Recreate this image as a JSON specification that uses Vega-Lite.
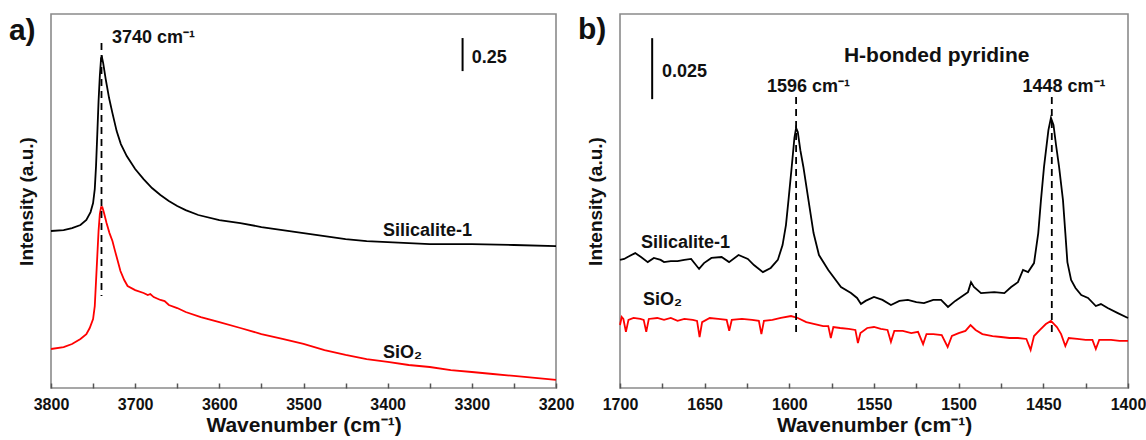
{
  "$schema": "https://vega.github.io/schema/vega-lite/v6.json",
  "padding": {"left": 8, "top": 13, "right": 0, "bottom": 0},
  "bounds": "flush",
  "spacing": 64,
  "config": {
    "font": "Liberation Sans",
    "view": {"stroke": "#8a8a8a", "strokeWidth": 1.6},
    "axis": {"grid": false, "labelFont": "Liberation Sans", "labelFontWeight": "bold", "labelColor": "#111111", "titleFont": "Liberation Sans", "titleFontWeight": "bold", "titleColor": "#111111"},
    "text": {"font": "Liberation Sans", "fontWeight": "bold", "color": "#111111"}
  },
  "datasets": {
    "specA": [
      {"wn":3800,"A":1.188,"s":"Silicalite-1"},{"wn":3785,"A":1.195,"s":"Silicalite-1"},{"wn":3775,"A":1.210,"s":"Silicalite-1"},{"wn":3765,"A":1.233,"s":"Silicalite-1"},{"wn":3758,"A":1.271,"s":"Silicalite-1"},{"wn":3753,"A":1.331,"s":"Silicalite-1"},{"wn":3750,"A":1.399,"s":"Silicalite-1"},{"wn":3748,"A":1.505,"s":"Silicalite-1"},{"wn":3746.5,"A":1.679,"s":"Silicalite-1"},{"wn":3745,"A":1.921,"s":"Silicalite-1"},{"wn":3743.5,"A":2.171,"s":"Silicalite-1"},{"wn":3742,"A":2.360,"s":"Silicalite-1"},{"wn":3740.5,"A":2.496,"s":"Silicalite-1"},{"wn":3739.5,"A":2.504,"s":"Silicalite-1"},{"wn":3738,"A":2.458,"s":"Silicalite-1"},{"wn":3735,"A":2.337,"s":"Silicalite-1"},{"wn":3731,"A":2.194,"s":"Silicalite-1"},{"wn":3727,"A":2.080,"s":"Silicalite-1"},{"wn":3722,"A":1.944,"s":"Silicalite-1"},{"wn":3717,"A":1.846,"s":"Silicalite-1"},{"wn":3710,"A":1.755,"s":"Silicalite-1"},{"wn":3700,"A":1.657,"s":"Silicalite-1"},{"wn":3690,"A":1.581,"s":"Silicalite-1"},{"wn":3680,"A":1.513,"s":"Silicalite-1"},{"wn":3670,"A":1.460,"s":"Silicalite-1"},{"wn":3660,"A":1.415,"s":"Silicalite-1"},{"wn":3650,"A":1.377,"s":"Silicalite-1"},{"wn":3640,"A":1.346,"s":"Silicalite-1"},{"wn":3625,"A":1.309,"s":"Silicalite-1"},{"wn":3600,"A":1.271,"s":"Silicalite-1"},{"wn":3575,"A":1.248,"s":"Silicalite-1"},{"wn":3550,"A":1.218,"s":"Silicalite-1"},{"wn":3525,"A":1.195,"s":"Silicalite-1"},{"wn":3500,"A":1.172,"s":"Silicalite-1"},{"wn":3475,"A":1.150,"s":"Silicalite-1"},{"wn":3450,"A":1.127,"s":"Silicalite-1"},{"wn":3425,"A":1.112,"s":"Silicalite-1"},{"wn":3400,"A":1.104,"s":"Silicalite-1"},{"wn":3375,"A":1.097,"s":"Silicalite-1"},{"wn":3350,"A":1.089,"s":"Silicalite-1"},{"wn":3300,"A":1.089,"s":"Silicalite-1"},{"wn":3250,"A":1.082,"s":"Silicalite-1"},{"wn":3200,"A":1.074,"s":"Silicalite-1"},
      {"wn":3800,"A":0.295,"s":"SiO2"},{"wn":3785,"A":0.310,"s":"SiO2"},{"wn":3775,"A":0.333,"s":"SiO2"},{"wn":3765,"A":0.371,"s":"SiO2"},{"wn":3758,"A":0.408,"s":"SiO2"},{"wn":3754,"A":0.454,"s":"SiO2"},{"wn":3750,"A":0.522,"s":"SiO2"},{"wn":3748,"A":0.620,"s":"SiO2"},{"wn":3746.5,"A":0.809,"s":"SiO2"},{"wn":3745,"A":0.998,"s":"SiO2"},{"wn":3743.5,"A":1.188,"s":"SiO2"},{"wn":3742,"A":1.316,"s":"SiO2"},{"wn":3740.5,"A":1.369,"s":"SiO2"},{"wn":3739,"A":1.369,"s":"SiO2"},{"wn":3737,"A":1.324,"s":"SiO2"},{"wn":3734,"A":1.248,"s":"SiO2"},{"wn":3730.5,"A":1.172,"s":"SiO2"},{"wn":3727,"A":1.112,"s":"SiO2"},{"wn":3724.5,"A":1.051,"s":"SiO2"},{"wn":3721,"A":0.968,"s":"SiO2"},{"wn":3717.5,"A":0.885,"s":"SiO2"},{"wn":3713,"A":0.817,"s":"SiO2"},{"wn":3709,"A":0.772,"s":"SiO2"},{"wn":3700,"A":0.741,"s":"SiO2"},{"wn":3690,"A":0.719,"s":"SiO2"},{"wn":3685,"A":0.703,"s":"SiO2"},{"wn":3682,"A":0.711,"s":"SiO2"},{"wn":3678,"A":0.688,"s":"SiO2"},{"wn":3670,"A":0.666,"s":"SiO2"},{"wn":3665,"A":0.658,"s":"SiO2"},{"wn":3660,"A":0.628,"s":"SiO2"},{"wn":3650,"A":0.605,"s":"SiO2"},{"wn":3640,"A":0.575,"s":"SiO2"},{"wn":3622,"A":0.537,"s":"SiO2"},{"wn":3600,"A":0.499,"s":"SiO2"},{"wn":3575,"A":0.454,"s":"SiO2"},{"wn":3550,"A":0.408,"s":"SiO2"},{"wn":3525,"A":0.371,"s":"SiO2"},{"wn":3500,"A":0.333,"s":"SiO2"},{"wn":3475,"A":0.287,"s":"SiO2"},{"wn":3450,"A":0.250,"s":"SiO2"},{"wn":3425,"A":0.219,"s":"SiO2"},{"wn":3400,"A":0.197,"s":"SiO2"},{"wn":3375,"A":0.174,"s":"SiO2"},{"wn":3350,"A":0.159,"s":"SiO2"},{"wn":3325,"A":0.136,"s":"SiO2"},{"wn":3300,"A":0.121,"s":"SiO2"},{"wn":3275,"A":0.106,"s":"SiO2"},{"wn":3250,"A":0.091,"s":"SiO2"},{"wn":3225,"A":0.076,"s":"SiO2"},{"wn":3200,"A":0.061,"s":"SiO2"}
    ],
    "specB": [
      {"wn":1700,"A":0.0525,"s":"Silicalite-1"},{"wn":1697.5,"A":0.0529,"s":"Silicalite-1"},{"wn":1695.5,"A":0.0537,"s":"Silicalite-1"},{"wn":1691,"A":0.0553,"s":"Silicalite-1"},{"wn":1687.6,"A":0.0537,"s":"Silicalite-1"},{"wn":1683.6,"A":0.0516,"s":"Silicalite-1"},{"wn":1680,"A":0.0533,"s":"Silicalite-1"},{"wn":1676,"A":0.0525,"s":"Silicalite-1"},{"wn":1674,"A":0.0516,"s":"Silicalite-1"},{"wn":1670,"A":0.0520,"s":"Silicalite-1"},{"wn":1666,"A":0.0520,"s":"Silicalite-1"},{"wn":1662,"A":0.0525,"s":"Silicalite-1"},{"wn":1658,"A":0.0529,"s":"Silicalite-1"},{"wn":1653.3,"A":0.0488,"s":"Silicalite-1"},{"wn":1650.4,"A":0.0512,"s":"Silicalite-1"},{"wn":1646,"A":0.0533,"s":"Silicalite-1"},{"wn":1640,"A":0.0537,"s":"Silicalite-1"},{"wn":1635.6,"A":0.0516,"s":"Silicalite-1"},{"wn":1630,"A":0.0545,"s":"Silicalite-1"},{"wn":1624.5,"A":0.0529,"s":"Silicalite-1"},{"wn":1620.9,"A":0.0504,"s":"Silicalite-1"},{"wn":1615.6,"A":0.0475,"s":"Silicalite-1"},{"wn":1611,"A":0.0492,"s":"Silicalite-1"},{"wn":1606.8,"A":0.0525,"s":"Silicalite-1"},{"wn":1604,"A":0.0586,"s":"Silicalite-1"},{"wn":1602,"A":0.0668,"s":"Silicalite-1"},{"wn":1600.5,"A":0.0770,"s":"Silicalite-1"},{"wn":1598.6,"A":0.0906,"s":"Silicalite-1"},{"wn":1597,"A":0.1025,"s":"Silicalite-1"},{"wn":1596,"A":0.1066,"s":"Silicalite-1"},{"wn":1595,"A":0.1049,"s":"Silicalite-1"},{"wn":1593.5,"A":0.0975,"s":"Silicalite-1"},{"wn":1591.7,"A":0.0906,"s":"Silicalite-1"},{"wn":1588.7,"A":0.0770,"s":"Silicalite-1"},{"wn":1585.7,"A":0.0635,"s":"Silicalite-1"},{"wn":1582.5,"A":0.0545,"s":"Silicalite-1"},{"wn":1577,"A":0.0484,"s":"Silicalite-1"},{"wn":1569.5,"A":0.0414,"s":"Silicalite-1"},{"wn":1563.6,"A":0.0389,"s":"Silicalite-1"},{"wn":1560,"A":0.0369,"s":"Silicalite-1"},{"wn":1557.7,"A":0.0344,"s":"Silicalite-1"},{"wn":1555,"A":0.0357,"s":"Silicalite-1"},{"wn":1550,"A":0.0373,"s":"Silicalite-1"},{"wn":1545,"A":0.0361,"s":"Silicalite-1"},{"wn":1540,"A":0.0340,"s":"Silicalite-1"},{"wn":1535,"A":0.0357,"s":"Silicalite-1"},{"wn":1530,"A":0.0361,"s":"Silicalite-1"},{"wn":1525,"A":0.0352,"s":"Silicalite-1"},{"wn":1520.5,"A":0.0348,"s":"Silicalite-1"},{"wn":1515,"A":0.0361,"s":"Silicalite-1"},{"wn":1510.4,"A":0.0361,"s":"Silicalite-1"},{"wn":1506.3,"A":0.0332,"s":"Silicalite-1"},{"wn":1502,"A":0.0357,"s":"Silicalite-1"},{"wn":1498.6,"A":0.0373,"s":"Silicalite-1"},{"wn":1494.5,"A":0.0393,"s":"Silicalite-1"},{"wn":1492.7,"A":0.0434,"s":"Silicalite-1"},{"wn":1491,"A":0.0414,"s":"Silicalite-1"},{"wn":1486.8,"A":0.0389,"s":"Silicalite-1"},{"wn":1479,"A":0.0393,"s":"Silicalite-1"},{"wn":1473,"A":0.0389,"s":"Silicalite-1"},{"wn":1469,"A":0.0414,"s":"Silicalite-1"},{"wn":1465,"A":0.0434,"s":"Silicalite-1"},{"wn":1462,"A":0.0484,"s":"Silicalite-1"},{"wn":1459,"A":0.0475,"s":"Silicalite-1"},{"wn":1455.5,"A":0.0512,"s":"Silicalite-1"},{"wn":1453,"A":0.0635,"s":"Silicalite-1"},{"wn":1451.4,"A":0.0770,"s":"Silicalite-1"},{"wn":1449.6,"A":0.0906,"s":"Silicalite-1"},{"wn":1447,"A":0.1057,"s":"Silicalite-1"},{"wn":1445.5,"A":0.1107,"s":"Silicalite-1"},{"wn":1444,"A":0.1078,"s":"Silicalite-1"},{"wn":1442.5,"A":0.0996,"s":"Silicalite-1"},{"wn":1440.7,"A":0.0906,"s":"Silicalite-1"},{"wn":1438.4,"A":0.0770,"s":"Silicalite-1"},{"wn":1437,"A":0.0635,"s":"Silicalite-1"},{"wn":1435.8,"A":0.0516,"s":"Silicalite-1"},{"wn":1433.6,"A":0.0443,"s":"Silicalite-1"},{"wn":1431,"A":0.0410,"s":"Silicalite-1"},{"wn":1427.6,"A":0.0381,"s":"Silicalite-1"},{"wn":1423.6,"A":0.0369,"s":"Silicalite-1"},{"wn":1419,"A":0.0336,"s":"Silicalite-1"},{"wn":1416,"A":0.0344,"s":"Silicalite-1"},{"wn":1412,"A":0.0328,"s":"Silicalite-1"},{"wn":1406,"A":0.0307,"s":"Silicalite-1"},{"wn":1400,"A":0.0287,"s":"Silicalite-1"},
      {"wn":1700,"A":0.0258,"s":"SiO2"},{"wn":1699,"A":0.0291,"s":"SiO2"},{"wn":1698,"A":0.0283,"s":"SiO2"},{"wn":1696.5,"A":0.0230,"s":"SiO2"},{"wn":1695,"A":0.0279,"s":"SiO2"},{"wn":1692,"A":0.0287,"s":"SiO2"},{"wn":1688,"A":0.0283,"s":"SiO2"},{"wn":1686,"A":0.0279,"s":"SiO2"},{"wn":1684.5,"A":0.0230,"s":"SiO2"},{"wn":1683,"A":0.0283,"s":"SiO2"},{"wn":1678,"A":0.0287,"s":"SiO2"},{"wn":1674,"A":0.0279,"s":"SiO2"},{"wn":1670,"A":0.0287,"s":"SiO2"},{"wn":1666,"A":0.0275,"s":"SiO2"},{"wn":1662,"A":0.0283,"s":"SiO2"},{"wn":1657,"A":0.0279,"s":"SiO2"},{"wn":1654.5,"A":0.0275,"s":"SiO2"},{"wn":1653,"A":0.0209,"s":"SiO2"},{"wn":1651.5,"A":0.0270,"s":"SiO2"},{"wn":1647,"A":0.0287,"s":"SiO2"},{"wn":1642,"A":0.0283,"s":"SiO2"},{"wn":1637,"A":0.0279,"s":"SiO2"},{"wn":1635.5,"A":0.0234,"s":"SiO2"},{"wn":1634,"A":0.0279,"s":"SiO2"},{"wn":1628,"A":0.0283,"s":"SiO2"},{"wn":1622,"A":0.0279,"s":"SiO2"},{"wn":1618,"A":0.0275,"s":"SiO2"},{"wn":1616.5,"A":0.0221,"s":"SiO2"},{"wn":1615,"A":0.0275,"s":"SiO2"},{"wn":1610,"A":0.0279,"s":"SiO2"},{"wn":1605,"A":0.0287,"s":"SiO2"},{"wn":1599,"A":0.0295,"s":"SiO2"},{"wn":1595,"A":0.0287,"s":"SiO2"},{"wn":1590,"A":0.0270,"s":"SiO2"},{"wn":1585,"A":0.0262,"s":"SiO2"},{"wn":1580,"A":0.0254,"s":"SiO2"},{"wn":1577,"A":0.0254,"s":"SiO2"},{"wn":1575.5,"A":0.0205,"s":"SiO2"},{"wn":1574,"A":0.0250,"s":"SiO2"},{"wn":1570,"A":0.0246,"s":"SiO2"},{"wn":1565,"A":0.0242,"s":"SiO2"},{"wn":1561,"A":0.0238,"s":"SiO2"},{"wn":1559.5,"A":0.0184,"s":"SiO2"},{"wn":1558,"A":0.0225,"s":"SiO2"},{"wn":1554,"A":0.0246,"s":"SiO2"},{"wn":1550,"A":0.0250,"s":"SiO2"},{"wn":1546,"A":0.0242,"s":"SiO2"},{"wn":1542,"A":0.0238,"s":"SiO2"},{"wn":1540,"A":0.0189,"s":"SiO2"},{"wn":1538,"A":0.0234,"s":"SiO2"},{"wn":1533,"A":0.0234,"s":"SiO2"},{"wn":1528,"A":0.0225,"s":"SiO2"},{"wn":1524,"A":0.0230,"s":"SiO2"},{"wn":1521,"A":0.0180,"s":"SiO2"},{"wn":1519,"A":0.0221,"s":"SiO2"},{"wn":1515,"A":0.0221,"s":"SiO2"},{"wn":1510,"A":0.0217,"s":"SiO2"},{"wn":1506.5,"A":0.0168,"s":"SiO2"},{"wn":1504,"A":0.0213,"s":"SiO2"},{"wn":1500,"A":0.0225,"s":"SiO2"},{"wn":1496,"A":0.0234,"s":"SiO2"},{"wn":1493,"A":0.0258,"s":"SiO2"},{"wn":1490,"A":0.0238,"s":"SiO2"},{"wn":1486,"A":0.0221,"s":"SiO2"},{"wn":1480,"A":0.0213,"s":"SiO2"},{"wn":1475,"A":0.0209,"s":"SiO2"},{"wn":1470,"A":0.0205,"s":"SiO2"},{"wn":1465,"A":0.0205,"s":"SiO2"},{"wn":1460,"A":0.0201,"s":"SiO2"},{"wn":1457.5,"A":0.0156,"s":"SiO2"},{"wn":1455.5,"A":0.0213,"s":"SiO2"},{"wn":1452,"A":0.0238,"s":"SiO2"},{"wn":1448.5,"A":0.0262,"s":"SiO2"},{"wn":1445.5,"A":0.0275,"s":"SiO2"},{"wn":1442,"A":0.0250,"s":"SiO2"},{"wn":1439.5,"A":0.0221,"s":"SiO2"},{"wn":1437,"A":0.0172,"s":"SiO2"},{"wn":1435,"A":0.0205,"s":"SiO2"},{"wn":1430,"A":0.0201,"s":"SiO2"},{"wn":1425,"A":0.0197,"s":"SiO2"},{"wn":1421,"A":0.0197,"s":"SiO2"},{"wn":1419,"A":0.0160,"s":"SiO2"},{"wn":1417,"A":0.0197,"s":"SiO2"},{"wn":1410,"A":0.0197,"s":"SiO2"},{"wn":1405,"A":0.0193,"s":"SiO2"},{"wn":1400,"A":0.0193,"s":"SiO2"}
    ]
  },
  "hconcat": [
    {
      "width": 505,
      "height": 374,
      "layer": [
        {
          "data": {"name": "specA"},
          "mark": {"type": "line", "strokeWidth": 1.8},
          "encoding": {
            "x": {"field": "wn", "type": "quantitative", "scale": {"domain": [3200, 3800], "reverse": true, "nice": false, "zero": false},
                  "axis": {"title": "Wavenumber (cm⁻¹)", "values": [3800,3750,3700,3650,3600,3550,3500,3450,3400,3350,3300,3250,3200], "format": "d", "labelExpr": "datum.value % 100 === 0 ? datum.label : ''", "domain": false, "tickSize": -5, "tickColor": "#555555", "tickWidth": 1.5, "labelPadding": 13, "labelFontSize": 16, "titleFontSize": 21, "titlePadding": 2, "labelFlush": false}},
            "y": {"field": "A", "type": "quantitative", "scale": {"domain": [0, 2.83], "nice": false, "zero": false},
                  "axis": {"title": "Intensity (a.u.)", "labels": false, "ticks": false, "domain": false, "titleFontSize": 19, "titlePadding": 15}},
            "color": {"field": "s", "type": "nominal", "scale": {"domain": ["Silicalite-1", "SiO2"], "range": ["#000000", "#ff0000"]}, "legend": null}
          }
        },
        {
          "data": {"values": [{"wn": 3740, "A": 2.610, "A2": 0.696}]},
          "mark": {"type": "rule", "strokeDash": [7, 5], "strokeWidth": 1.8, "color": "#000000"},
          "encoding": {"x": {"field": "wn", "type": "quantitative"}, "y": {"field": "A", "type": "quantitative"}, "y2": {"field": "A2"}}
        },
        {
          "data": {"values": [{"wn": 3311, "A": 2.648, "A2": 2.398}]},
          "mark": {"type": "rule", "strokeWidth": 2, "color": "#000000"},
          "encoding": {"x": {"field": "wn", "type": "quantitative"}, "y": {"field": "A", "type": "quantitative"}, "y2": {"field": "A2"}}
        },
        {
          "data": {"values": [{"wn": 3727.5, "A": 2.610, "t": "3740 cm⁻¹"}, {"wn": 3300, "A": 2.458, "t": "0.25"}, {"wn": 3405.6, "A": 1.150, "t": "Silicalite-1"}, {"wn": 3405.6, "A": 0.227, "t": "SiO₂"}]},
          "mark": {"type": "text", "align": "left", "baseline": "alphabetic", "fontSize": 18},
          "encoding": {"x": {"field": "wn", "type": "quantitative"}, "y": {"field": "A", "type": "quantitative"}, "text": {"field": "t"}}
        },
        {
          "data": {"values": [{"wn": 3850, "A": 2.632, "t": "a)"}]},
          "mark": {"type": "text", "align": "left", "baseline": "alphabetic", "fontSize": 30},
          "encoding": {"x": {"field": "wn", "type": "quantitative"}, "y": {"field": "A", "type": "quantitative"}, "text": {"field": "t"}}
        }
      ]
    },
    {
      "width": 508,
      "height": 374,
      "layer": [
        {
          "data": {"name": "specB"},
          "mark": {"type": "line", "strokeWidth": 1.8},
          "encoding": {
            "x": {"field": "wn", "type": "quantitative", "scale": {"domain": [1400, 1700], "reverse": true, "nice": false, "zero": false},
                  "axis": {"title": "Wavenumber (cm⁻¹)", "values": [1700,1675,1650,1625,1600,1575,1550,1525,1500,1475,1450,1425,1400], "format": "d", "labelExpr": "datum.value % 50 === 0 ? datum.label : ''", "domain": false, "tickSize": -5, "tickColor": "#555555", "tickWidth": 1.5, "labelPadding": 13, "labelFontSize": 16, "titleFontSize": 21, "titlePadding": 2, "labelFlush": false}},
            "y": {"field": "A", "type": "quantitative", "scale": {"domain": [0, 0.1533], "nice": false, "zero": false},
                  "axis": {"title": "Intensity (a.u.)", "labels": false, "ticks": false, "domain": false, "titleFontSize": 19, "titlePadding": 15}},
            "color": {"field": "s", "type": "nominal", "scale": {"domain": ["Silicalite-1", "SiO2"], "range": ["#000000", "#ff0000"]}, "legend": null}
          }
        },
        {
          "data": {"values": [{"wn": 1596, "A": 0.1193, "A2": 0.0209}, {"wn": 1445, "A": 0.1193, "A2": 0.0225}]},
          "mark": {"type": "rule", "strokeDash": [7, 5], "strokeWidth": 1.8, "color": "#000000"},
          "encoding": {"x": {"field": "wn", "type": "quantitative"}, "y": {"field": "A", "type": "quantitative"}, "y2": {"field": "A2"}}
        },
        {
          "data": {"values": [{"wn": 1681, "A": 0.1434, "A2": 0.1184}]},
          "mark": {"type": "rule", "strokeWidth": 2, "color": "#000000"},
          "encoding": {"x": {"field": "wn", "type": "quantitative"}, "y": {"field": "A", "type": "quantitative"}, "y2": {"field": "A2"}}
        },
        {
          "data": {"values": [{"wn": 1675.2, "A": 0.1275, "t": "0.025"}, {"wn": 1687.6, "A": 0.0574, "t": "Silicalite-1"}, {"wn": 1686.4, "A": 0.0340, "t": "SiO₂"}]},
          "mark": {"type": "text", "align": "left", "baseline": "alphabetic", "fontSize": 18},
          "encoding": {"x": {"field": "wn", "type": "quantitative"}, "y": {"field": "A", "type": "quantitative"}, "text": {"field": "t"}}
        },
        {
          "data": {"values": [{"wn": 1588.7, "A": 0.1213, "t": "1596 cm⁻¹"}, {"wn": 1437.8, "A": 0.1213, "t": "1448 cm⁻¹"}]},
          "mark": {"type": "text", "align": "center", "baseline": "alphabetic", "fontSize": 18},
          "encoding": {"x": {"field": "wn", "type": "quantitative"}, "y": {"field": "A", "type": "quantitative"}, "text": {"field": "t"}}
        },
        {
          "data": {"values": [{"wn": 1513, "A": 0.1336, "t": "H-bonded pyridine"}]},
          "mark": {"type": "text", "align": "center", "baseline": "alphabetic", "fontSize": 21},
          "encoding": {"x": {"field": "wn", "type": "quantitative"}, "y": {"field": "A", "type": "quantitative"}, "text": {"field": "t"}}
        },
        {
          "data": {"values": [{"wn": 1724.8, "A": 0.1430, "t": "b)"}]},
          "mark": {"type": "text", "align": "left", "baseline": "alphabetic", "fontSize": 30},
          "encoding": {"x": {"field": "wn", "type": "quantitative"}, "y": {"field": "A", "type": "quantitative"}, "text": {"field": "t"}}
        }
      ]
    }
  ]
}
